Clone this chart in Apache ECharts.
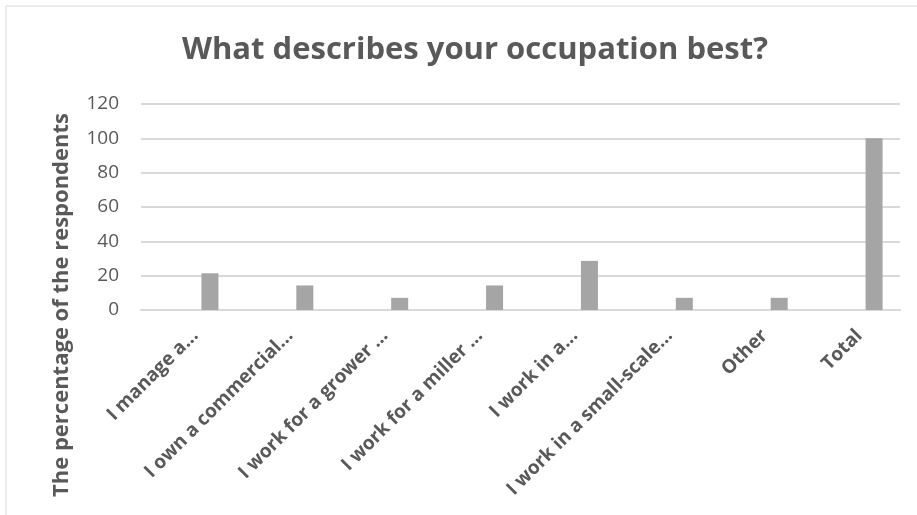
<!DOCTYPE html>
<html>
<head>
<meta charset="utf-8">
<script src="https://cdn.jsdelivr.net/npm/echarts@6/dist/echarts.min.js"></script>
<style>
  html, body { margin: 0; padding: 0; background: #ffffff; }
  #chart { width: 917px; height: 515px; }
</style>
</head>
<body>
<div id="chart"></div>
<script>
// Survey answers: share of respondents per occupation (percent)
const categories = [
  'I manage a...',
  'I own a commercial...',
  'I work for a grower …',
  'I work for a miller …',
  'I work in a...',
  'I work in a small-scale...',
  'Other',
  'Total'
];
const percentages = [21.4, 14.3, 7.1, 14.3, 28.6, 7.1, 7.1, 100];
// Companion series with no plotted values; it keeps the clustered slot on the left
const emptySlot = categories.map(() => '-');
const yTicks = { min: 0, max: 120, interval: 20 };

const textColor = '#595959';
const font = '"Open Sans", "Liberation Sans", sans-serif';

const chart = echarts.init(document.getElementById('chart'), null, { renderer: 'canvas' });

chart.setOption({
  animation: false,
  backgroundColor: '#ffffff',
  textStyle: { fontFamily: font },
  title: {
    text: 'What describes your occupation best?',
    left: 470,
    textAlign: 'center',
    top: 30,
    textStyle: { fontFamily: font, fontSize: 31, fontWeight: 'bold', color: textColor }
  },
  graphic: [
    {
      type: 'rect',
      shape: { x: 6, y: 6, width: 930, height: 530 },
      style: { fill: 'none', stroke: '#d9d9d9', lineWidth: 1 },
      silent: true,
      z: -1
    },
    {
      type: 'text',
      x: 62,
      y: 305,
      rotation: Math.PI / 2,
      style: {
        text: 'The percentage of the respondents',
        fill: textColor,
        font: 'bold 22px ' + font,
        align: 'center',
        verticalAlign: 'middle'
      }
    }
  ],
  grid: { left: 141, right: 17, top: 104, bottom: 205, containLabel: false },
  xAxis: {
    type: 'category',
    data: categories,
    axisLine: { show: true, lineStyle: { color: '#d9d9d9', width: 2 } },
    axisTick: { show: false },
    axisLabel: {
      interval: 0,
      rotate: 45,
      margin: 16,
      verticalAlign: 'top',
      color: textColor,
      fontFamily: font,
      fontSize: 19,
      fontWeight: 'bold'
    }
  },
  yAxis: {
    type: 'value',
    min: yTicks.min,
    max: yTicks.max,
    interval: yTicks.interval,
    axisLine: { show: false },
    axisTick: { show: false },
    splitLine: { lineStyle: { color: '#d9d9d9', width: 2 } },
    axisLabel: { color: textColor, fontFamily: font, fontSize: 19, margin: 22 }
  },
  series: [
    {
      type: 'bar',
      data: emptySlot,
      barWidth: 17,
      barGap: '153%',
      itemStyle: { color: '#5b9bd5' }
    },
    {
      name: 'Percentage',
      type: 'bar',
      data: percentages,
      barWidth: 17,
      barGap: '153%',
      itemStyle: { color: '#a5a5a5' }
    }
  ]
});
</script>
</body>
</html>
